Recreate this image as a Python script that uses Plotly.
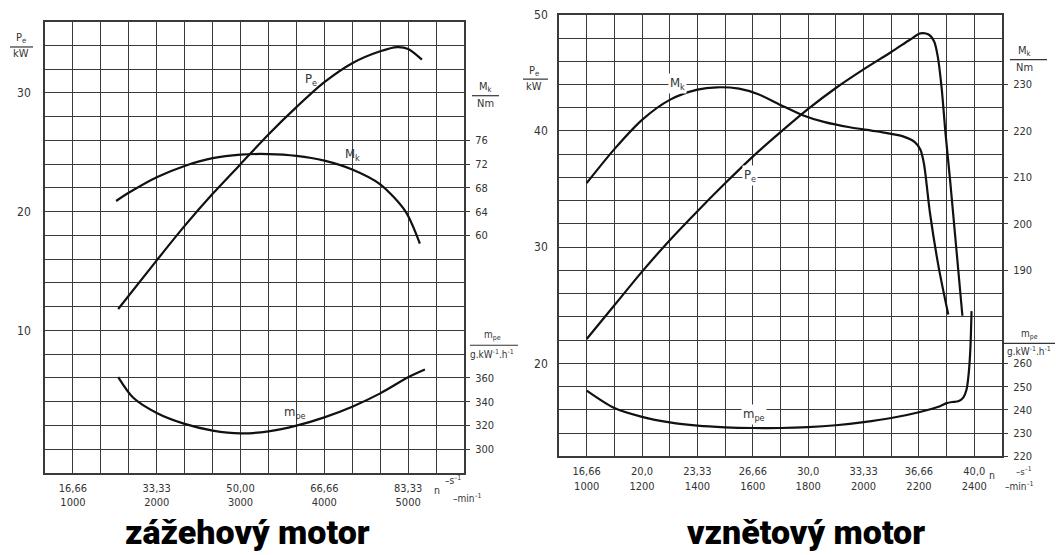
import plotly.graph_objects as go

# ---------------- petrol engine (zážehový motor) ----------------
z_pe_rpm = [1540, 2000, 2333, 2667, 3000, 3333, 3667, 4000, 4333, 4667, 4870, 5000, 5165]
z_pe_kw = [11.8, 15.9, 18.8, 21.5, 24.0, 26.5, 28.8, 30.9, 32.5, 33.5, 33.85, 33.7, 32.8]

z_mk_rpm = [1515, 1680, 2000, 2333, 2667, 3000, 3333, 3667, 4000, 4333, 4667, 4970, 5140]
z_mk_nm = [65.8, 67.3, 69.8, 71.7, 73.0, 73.6, 73.7, 73.4, 72.6, 71.1, 68.6, 64.0, 58.6]

z_mpe_rpm = [1540, 1717, 2000, 2333, 2667, 3000, 3333, 3667, 4000, 4333, 4667, 5000, 5200]
z_mpe_g = [360.7, 343.5, 330.5, 321.3, 315.7, 313.3, 315.0, 319.8, 326.8, 335.8, 347.0, 360.5, 367.0]

z_x_ticks = [1000, 2000, 3000, 4000, 5000]
z_x_text = ["16,66<br>1000", "33,33<br>2000", "50,00<br>3000", "66,66<br>4000", "83,33<br>5000"]
z_pe_ticks = [10, 20, 30]
z_mk_ticks = [60, 64, 68, 72, 76]
z_mpe_ticks = [300, 320, 340, 360]

# ---------------- diesel engine (vznětový motor) ----------------
v_pe_rpm = [1000, 1100, 1200, 1300, 1400, 1500, 1600, 1700, 1800, 1900, 2000, 2100, 2170,
            2205, 2235, 2255, 2268, 2282, 2296, 2312, 2330, 2357]
v_pe_kw = [22.1, 25.0, 27.9, 30.6, 33.1, 35.5, 37.8, 39.9, 41.9, 43.7, 45.3, 46.8, 47.9,
           48.4, 48.3, 47.7, 46.4, 43.7, 39.8, 35.9, 31.2, 24.1]

v_mk_rpm = [1000, 1100, 1200, 1300, 1400, 1470, 1550, 1620, 1700, 1780, 1860, 1950, 2050,
            2140, 2185, 2205, 2218, 2240, 2270, 2306]
v_mk_nm = [208.8, 216.1, 222.4, 226.7, 228.9, 229.4, 229.1, 227.9, 225.6, 223.4, 221.9, 220.8,
           219.9, 218.9, 217.6, 216.0, 213.0, 202.3, 191.1, 180.5]

v_mpe_rpm = [1000, 1100, 1200, 1300, 1400, 1500, 1600, 1700, 1800, 1900, 2000, 2100, 2200,
             2276, 2300, 2320, 2342, 2360, 2372, 2380, 2386, 2390]
v_mpe_g = [248.3, 240.8, 237.0, 234.6, 233.2, 232.5, 232.2, 232.2, 232.6, 233.4, 234.7, 236.5,
           239.0, 241.6, 242.9, 243.4, 243.7, 245.3, 248.8, 256.0, 267.0, 282.5]

v_x_ticks = [1000, 1200, 1400, 1600, 1800, 2000, 2200, 2400]
v_x_text = ["16,66<br>1000", "20,0<br>1200", "23,33<br>1400", "26,66<br>1600",
            "30,0<br>1800", "33,33<br>2000", "36,66<br>2200", "40,0<br>2400"]
v_pe_ticks = [20, 30, 40, 50]
v_mk_ticks = [190, 200, 210, 220, 230]
v_mpe_ticks = [220, 230, 240, 250, 260]

# ---------------- styling ----------------
W, H = 1056, 555
INK = "#111111"
GRID = "#3a3a3a"
TXT = "#333333"
FONT = "DejaVu Sans Condensed"


def px(x):
    return x / W


def py(y):
    return 1 - y / H


line_style = dict(color=INK, width=2.2, shape="spline", smoothing=0.8)

fig = go.Figure()

fig.add_trace(go.Scatter(x=z_pe_rpm, y=z_pe_kw, mode="lines", line=line_style,
                         xaxis="x", yaxis="y", hoverinfo="skip"))
fig.add_trace(go.Scatter(x=z_mk_rpm, y=z_mk_nm, mode="lines", line=line_style,
                         xaxis="x", yaxis="y3", hoverinfo="skip"))
fig.add_trace(go.Scatter(x=z_mpe_rpm, y=z_mpe_g, mode="lines", line=line_style,
                         xaxis="x", yaxis="y4", hoverinfo="skip"))

fig.add_trace(go.Scatter(x=v_pe_rpm, y=v_pe_kw, mode="lines", line=line_style,
                         xaxis="x2", yaxis="y2", hoverinfo="skip"))
fig.add_trace(go.Scatter(x=v_mk_rpm, y=v_mk_nm, mode="lines", line=line_style,
                         xaxis="x2", yaxis="y5", hoverinfo="skip"))
fig.add_trace(go.Scatter(x=v_mpe_rpm, y=v_mpe_g, mode="lines", line=line_style,
                         xaxis="x2", yaxis="y6", hoverinfo="skip"))

tickfont = dict(family=FONT, size=11, color=TXT)


def grid_x(domain, rng, ticks, text, step, anchor):
    return dict(domain=domain, range=rng, anchor=anchor, tickmode="array",
                tickvals=ticks, ticktext=text, tickfont=tickfont,
                showgrid=True, gridcolor=GRID, gridwidth=1.4,
                minor=dict(tick0=rng[0], dtick=step, showgrid=True,
                           gridcolor=GRID, gridwidth=1.4),
                showline=True, mirror=True, linecolor=GRID, linewidth=1.6,
                zeroline=False, ticks="", ticklabelstandoff=4, fixedrange=True)


def grid_y(domain, rng, ticks, step, anchor, standoff):
    return dict(domain=domain, range=rng, anchor=anchor, tickmode="array",
                tickvals=ticks, tickfont=dict(family=FONT, size=12, color=TXT),
                showgrid=True, gridcolor=GRID, gridwidth=1.4,
                minor=dict(tick0=0, dtick=step, showgrid=True,
                           gridcolor=GRID, gridwidth=1.4),
                showline=True, mirror=True, linecolor=GRID, linewidth=1.6,
                zeroline=False, ticks="", ticklabelstandoff=standoff, fixedrange=True)


def side_y(over, anchor, rng, ticks):
    return dict(overlaying=over, anchor=anchor, side="right", range=rng,
                tickmode="array", tickvals=ticks, tickfont=tickfont,
                showgrid=False, zeroline=False, showline=False,
                ticks="outside", ticklen=5, tickcolor=GRID, tickwidth=1.4,
                ticklabelstandoff=3, fixedrange=True)


fig.update_layout(
    width=W, height=H,
    margin=dict(l=0, r=0, t=0, b=0),
    paper_bgcolor="white", plot_bgcolor="white",
    showlegend=False,
    xaxis=grid_x([px(45), px(464)], [666.667, 5666.667], z_x_ticks, z_x_text, 333.3333, "y"),
    yaxis=grid_y([py(478), py(15)], [-2, 36], z_pe_ticks, 2, "x", 10),
    yaxis3=side_y("y", "x", [20, 96], z_mk_ticks),
    yaxis4=side_y("y", "x", [280, 660], z_mpe_ticks),
    xaxis2=grid_x([px(559), px(1002)], [900, 2500], v_x_ticks, v_x_text, 100, "y2"),
    yaxis2=grid_y([py(461), py(8)], [12, 50], v_pe_ticks, 2, "x2", 7),
    yaxis5=side_y("y2", "x2", [150, 245], v_mk_ticks),
    yaxis6=side_y("y2", "x2", [220, 410], v_mpe_ticks),
)

annotations = []
shapes = []


def label(x, y, text, size=12, bg=None, xanchor="center"):
    a = dict(x=px(x), y=py(y), xref="paper", yref="paper", text=text, showarrow=False,
             xanchor=xanchor, yanchor="middle",
             font=dict(family=FONT, size=size, color=TXT))
    if bg:
        a["bgcolor"] = bg
        a["borderpad"] = 1
    annotations.append(a)


def fraction(xc, y_top, y_line, y_bot, x0, x1, top, bottom, size=11):
    label(xc, y_top, top, size)
    label(xc, y_bot, bottom, size)
    shapes.append(dict(type="line", xref="paper", yref="paper",
                       x0=px(x0), x1=px(x1), y0=py(y_line), y1=py(y_line),
                       line=dict(color=TXT, width=1.2)))


# axis quantity / unit fractions
fraction(21, 32, 41, 48, 10, 33, "P<sub>e</sub>", "kW")
fraction(485, 82, 91, 99, 472, 499, "M<sub>k</sub>", "Nm")
fraction(492, 337, 347, 356, 470, 518, "m<sub>pe</sub>", "g.kW<sup>-1</sup>.h<sup>-1</sup>", 10)

fraction(534, 66, 74, 82, 523, 548, "P<sub>e</sub>", "kW")
fraction(1024, 45, 54, 62, 1010, 1047, "M<sub>k</sub>", "Nm")
fraction(1029, 336, 345, 353, 1003, 1055, "m<sub>pe</sub>", "g.kW<sup>-1</sup>.h<sup>-1</sup>", 10)

# speed units below the abscissa
label(453, 485, "–s<sup>–1</sup>", 10)
label(437, 495, "n", 10.5)
label(467, 504, "–min<sup>–1</sup>", 10)
label(1024, 476, "–s<sup>–1</sup>", 9.5)
label(992, 480, "n", 10.5)
label(1019, 491, "–min<sup>–1</sup>", 10)

# curve names
label(311, 74, "P<sub>e</sub>", 13)
label(352, 151, "M<sub>k</sub>", 13)
label(295, 416, "m<sub>pe</sub>", 13)
label(677, 78, "M<sub>k</sub>", 13, bg="white")
label(750, 173, "P<sub>e</sub>", 13, bg="white")
label(754, 418, "m<sub>pe</sub>", 13, bg="white")

# titles
for xc, t in [(247, "zážehový motor"), (806, "vznětový motor")]:
    annotations.append(dict(x=px(xc), y=py(539), xref="paper", yref="paper", text=t,
                            showarrow=False, xanchor="center", yanchor="middle",
                            font=dict(family="Roboto", size=34, color="#000000",
                                      weight=900)))

fig.update_layout(annotations=annotations, shapes=shapes)

fig.write_html("out.html", config={"displayModeBar": False})
